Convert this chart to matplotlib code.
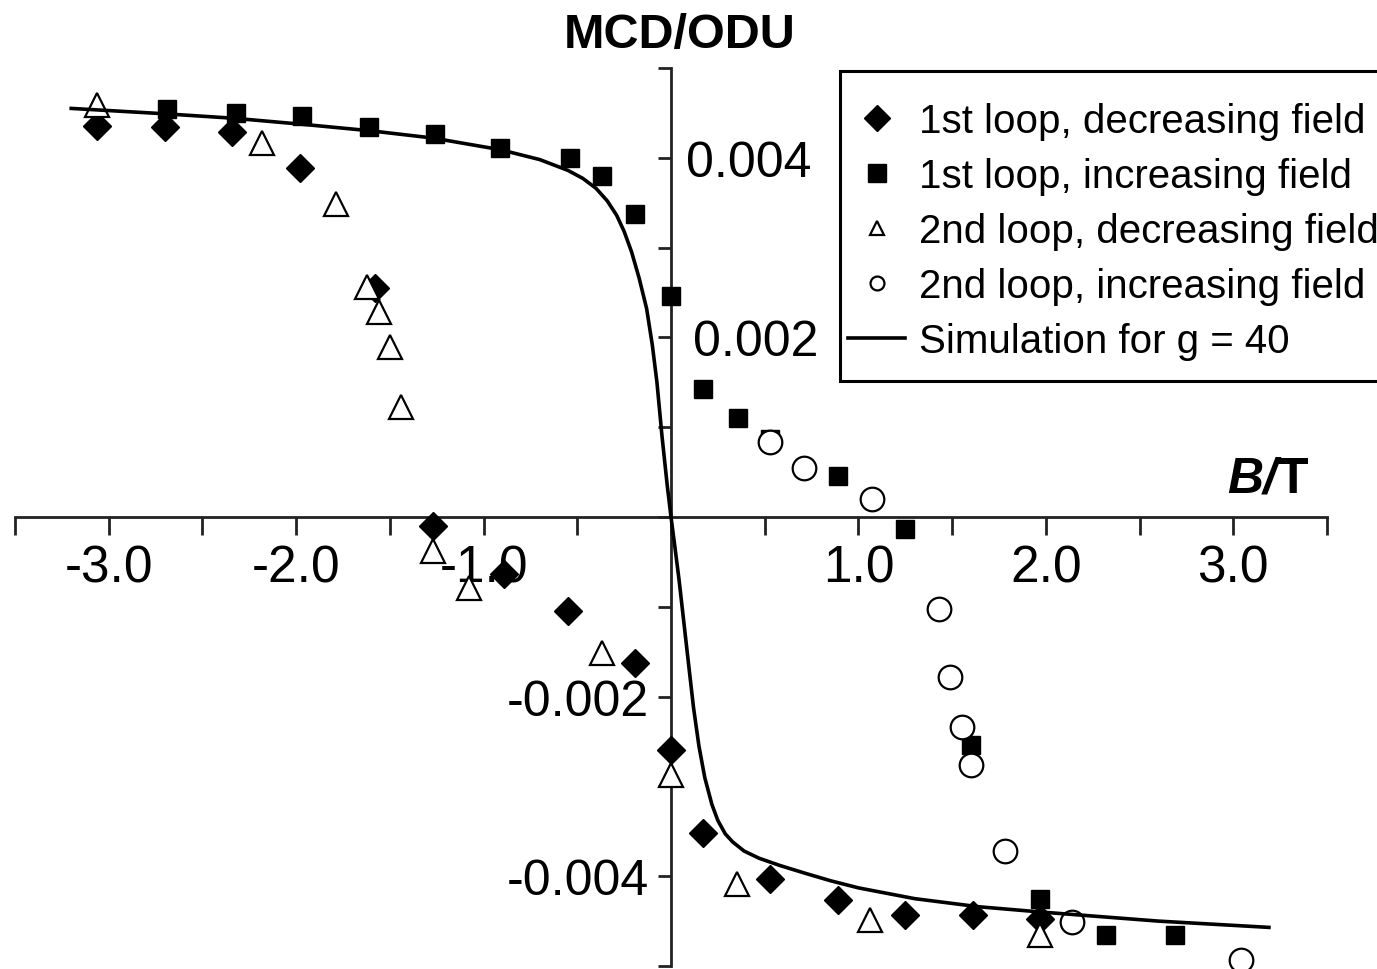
import matplotlib.pyplot as plt
import numpy as np
from matplotlib.patches import Rectangle

plt.rcParams['font.family'] = ['Liberation Sans', 'DejaVu Sans']
plt.rcParams['axes.unicode_minus'] = False

# 1st loop, decreasing field (filled diamonds)
dec1_B = [-3.06, -2.70, -2.34, -1.98, -1.58, -1.27, -0.89, -0.55, -0.19, 0.0, 0.17, 0.53, 0.89, 1.25, 1.61, 1.97]
dec1_mcd = [0.00435, 0.00434, 0.00429, 0.00389, 0.00255, -0.00010, -0.00064, -0.00105, -0.00163, -0.00260,
            -0.00352, -0.00403, -0.00426, -0.00443, -0.00443, -0.00448]

# 1st loop, increasing field (filled squares)
inc1_B = [-2.69, -2.32, -1.97, -1.61, -1.26, -0.91, -0.54, -0.37, -0.19, 0.0, 0.17, 0.36, 0.53, 0.89,
          1.25, 1.60, 1.97, 2.32, 2.69]
inc1_mcd = [0.00454, 0.00450, 0.00447, 0.00434, 0.00426, 0.00411, 0.00400, 0.00380, 0.00337, 0.00246,
            0.00143, 0.00110, 0.00087, 0.00046, -0.00013, -0.00254, -0.00425, -0.00465, -0.00466]

# 2nd loop, decreasing field (open triangles)
dec2_B = [-3.06, -2.18, -1.79, -1.62, -1.56, -1.50, -1.44, -1.27, -1.08, -0.37, 0.0, 0.35, 1.06, 1.97]
dec2_mcd = [0.00459, 0.00417, 0.00348, 0.00256, 0.00228, 0.00189, 0.00122, -0.00038, -0.00079, -0.00152,
            -0.00287, -0.00409, -0.00449, -0.00466]

# 2nd loop, increasing field (open circles)
inc2_B = [0.53, 0.71, 1.07, 1.43, 1.49, 1.55, 1.60, 1.78, 2.14, 3.04]
inc2_mcd = [0.00083, 0.00055, 0.00020, -0.00102, -0.00178, -0.00234, -0.00276, -0.00372, -0.00451, -0.00493]

# simulation for g = 40
sim_B = [-3.20, -2.70, -2.33, -1.95, -1.60, -1.27, -0.91, -0.70, -0.55, -0.47, -0.40, -0.34, -0.29,
         -0.25, -0.21, -0.17, -0.13, -0.10, -0.075, -0.048, -0.02, 0.0, 0.02, 0.043, 0.07, 0.096,
         0.12, 0.149, 0.18, 0.218, 0.25, 0.29, 0.33, 0.39, 0.47, 0.58, 0.72, 0.85,
         1.00, 1.30, 1.64, 1.98, 2.60, 3.19]
sim_mcd = [0.00455, 0.00449, 0.00444, 0.00437, 0.00430, 0.00422, 0.00409, 0.00398, 0.00386, 0.00377,
           0.00366, 0.00352, 0.00336, 0.00318, 0.00295, 0.00266, 0.00232, 0.00192, 0.00150, 0.00090,
           0.00035, 0.0, -0.00032, -0.00070, -0.00120, -0.00168, -0.00212, -0.00255, -0.00290,
           -0.00320, -0.00338, -0.00353, -0.00362, -0.00372, -0.00380, -0.00388, -0.00397, -0.00405,
           -0.00413, -0.00425, -0.00434, -0.00440, -0.00450, -0.00457]

legend_labels = ["1st loop, decreasing field", "1st loop, increasing field",
                 "2nd loop, decreasing field", "2nd loop, increasing field",
                 "Simulation for g = 40"]

x_label_ticks = [-3.0, -2.0, -1.0, 1.0, 2.0, 3.0]
x_label_text = ["-3.0", "-2.0", "-1.0", "1.0", "2.0", "3.0"]
y_label_ticks = [0.004, 0.002, -0.002, -0.004]
y_label_text = ["0.004", "0.002", "-0.002", "-0.004"]


fig = plt.figure(figsize=(13.77, 9.70), dpi=100)
ax = fig.add_axes([15 / 1377, 3 / 970, 1312 / 1377, 898 / 970])

h1, = ax.plot(dec1_B, dec1_mcd, ls="none", marker="D", ms=14, color="k", zorder=3, clip_on=False)
h2, = ax.plot(inc1_B, inc1_mcd, ls="none", marker="s", ms=13, color="k", zorder=3, clip_on=False)
h3, = ax.plot(dec2_B, dec2_mcd, ls="none", marker="^", ms=17, mfc="white", mec="k", mew=1.6,
              zorder=4, clip_on=False)
h4, = ax.plot(inc2_B, inc2_mcd, ls="none", marker="o", ms=17, mfc="white", mec="k", mew=1.6,
              zorder=4, clip_on=False)
h5, = ax.plot(sim_B, sim_mcd, ls="-", color="k", lw=2.6, zorder=5, clip_on=False)

ax.set_xlim(-3.5, 3.5)
ax.set_ylim(-0.005, 0.005)

for side in ["top", "right"]:
    ax.spines[side].set_visible(False)
for side in ["left", "bottom"]:
    ax.spines[side].set_position("zero")
    ax.spines[side].set_linewidth(2.0)
    ax.spines[side].set_color("#222222")

ax.set_xticks(x_label_ticks)
ax.set_xticklabels(x_label_text, fontsize=37)
ax.set_xticks(np.arange(-3.5, 3.51, 0.5), minor=True)
ax.tick_params(axis="x", which="both", direction="out", length=13, width=2.0, pad=6, color="#222222")

ax.set_yticks(np.arange(-0.005, 0.0051, 0.001))
ax.set_yticklabels([])
ax.tick_params(axis="y", which="both", direction="out", length=9.5, width=2.0, color="#222222")

for yv, txt in zip(y_label_ticks, y_label_text):
    if yv > 0:
        off = 11 if yv > 0.003 else 16
        ax.annotate(txt, xy=(0, yv), xytext=(off, 0), textcoords="offset points",
                    ha="left", va="center_baseline", fontsize=36)
    else:
        ax.annotate(txt, xy=(0, yv), xytext=(-16, 0), textcoords="offset points",
                    ha="right", va="center_baseline", fontsize=36)

fig.text(680 / 1377, 1 - 48 / 970, "MCD/ODU", ha="center", va="baseline", fontsize=35, weight="bold")
fig.text(1277 / 1377, 1 - 493 / 970, "B/", ha="right", va="baseline", fontsize=36, weight="bold",
         style="italic")
fig.text(1277 / 1377, 1 - 493 / 970, "T", ha="left", va="baseline", fontsize=36, weight="bold")

# legend box runs past the right edge of the picture, so the frame is drawn separately
fig.add_artist(Rectangle((840 / 1377, 1 - 382 / 970), 600 / 1377, 310 / 970, transform=fig.transFigure,
                         fill=True, facecolor="white", edgecolor="k", lw=2.2, zorder=6))
leg = fig.legend([h1, h2, h3, h4, h5], legend_labels, loc="upper left",
                 bbox_to_anchor=(840 / 1377, 1 - 95 / 970), fontsize=29, frameon=False,
                 borderpad=0.2, labelspacing=0.42, handlelength=1.42, handletextpad=0.35,
                 borderaxespad=0)
leg.set_zorder(7)
leg_ms = [13, 13, 10, 10]
for hd, m in zip(leg.legend_handles[:4], leg_ms):
    hd.set_markersize(m)

fig.savefig("out.png", dpi=100)
